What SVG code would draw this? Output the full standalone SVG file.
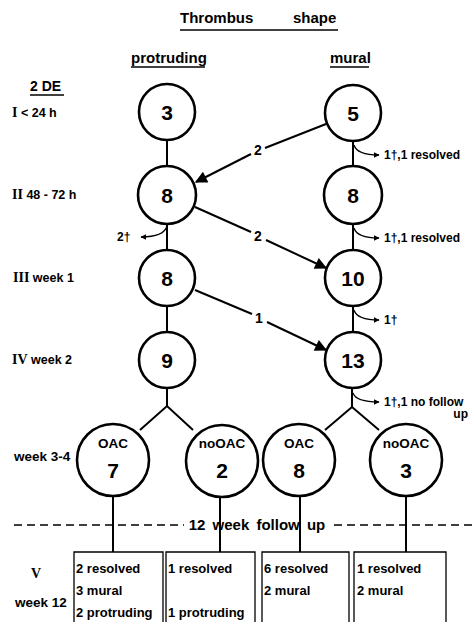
<svg xmlns="http://www.w3.org/2000/svg" width="474" height="622" viewBox="0 0 474 622">
<defs>
<style>
text{font-family:"Liberation Sans",Arial,sans-serif;font-weight:bold;fill:#000}
.num{font-size:21px;text-anchor:middle}
.lbl{font-size:12.5px}
.side{font-size:12px}
.el{font-size:14px;text-anchor:middle}
.hd{font-size:15px}
.rn{font-family:"Liberation Serif","Times New Roman",serif;font-size:14px}
.node{fill:#fff;stroke:#000;stroke-width:2.6}
.ln{stroke:#000;stroke-width:2;fill:none}
.thin{stroke:#000;stroke-width:1.3;fill:none}
.box{fill:none;stroke:#000;stroke-width:1.3}
.bt{font-size:13px}
.sub{font-size:13.5px;text-anchor:middle}
</style>
<marker id="ah" viewBox="0 0 10 10" refX="9" refY="5" markerWidth="6" markerHeight="6" markerUnits="userSpaceOnUse" orient="auto"><path d="M0,0 L10,5 L0,10 z" fill="#000"/></marker>
<marker id="big" viewBox="0 0 10 10" refX="9" refY="5" markerWidth="13" markerHeight="12" markerUnits="userSpaceOnUse" orient="auto"><path d="M0,0 L10,5 L0,10 z" fill="#000"/></marker>
</defs>

<g id="headers">
<text class="hd" x="180" y="23">Thrombus</text>
<text class="hd" x="293" y="23">shape</text>
<line class="thin" x1="180" y1="30" x2="338" y2="30"/>
<text class="hd" x="131" y="63">protruding</text>
<line class="thin" x1="131" y1="67" x2="205" y2="67"/>
<text class="hd" x="330" y="63">mural</text>
<line class="thin" x1="330" y1="67" x2="369" y2="67"/>
</g>

<g id="row-labels">
<text x="30" y="91" style="font-size:14px">2 DE</text>
<line class="thin" x1="30" y1="95" x2="64" y2="95"/>
<text class="lbl" x="12" y="117"><tspan class="rn">I</tspan> &lt; 24 h</text>
<text class="lbl" x="12" y="199"><tspan class="rn">II</tspan> 48 - 72 h</text>
<text class="lbl" x="13" y="282"><tspan class="rn">III</tspan> week 1</text>
<text class="lbl" x="12" y="364"><tspan class="rn">IV</tspan> week 2</text>
<text x="14" y="461" style="font-size:13.5px">week 3-4</text>
<text x="31" y="578"><tspan class="rn">V</tspan></text>
<text x="15" y="607" style="font-size:13.5px">week 12</text>
</g>

<g id="connectors">
<line class="ln" x1="167" y1="141" x2="167" y2="166"/>
<line class="ln" x1="167" y1="224" x2="167" y2="249"/>
<line class="ln" x1="167" y1="307" x2="167" y2="331"/>
<line class="ln" x1="353" y1="142" x2="353" y2="166"/>
<line class="ln" x1="353" y1="224" x2="353" y2="249"/>
<line class="ln" x1="353" y1="307" x2="353" y2="331"/>
<polyline class="ln" points="140,430 167,406 193,430"/>
<line class="ln" x1="167" y1="389" x2="167" y2="406"/>
<polyline class="ln" points="325,430 352,407 379,430"/>
<line class="ln" x1="352" y1="389" x2="352" y2="407"/>
<line class="ln" x1="326" y1="124" x2="265" y2="148"/>
<line class="ln" x1="251" y1="154" x2="196" y2="182" marker-end="url(#big)"/>
<line class="ln" x1="195" y1="207" x2="251" y2="232"/>
<line class="ln" x1="266" y1="240" x2="326" y2="268" marker-end="url(#big)"/>
<line class="ln" x1="195" y1="290" x2="252" y2="314"/>
<line class="ln" x1="267" y1="322" x2="326" y2="350" marker-end="url(#big)"/>
<path class="thin" d="M354,145 Q357,155 379,155" marker-end="url(#ah)"/>
<path class="thin" d="M354,228 Q357,238 379,238" marker-end="url(#ah)"/>
<path class="thin" d="M354,310 Q357,320 379,320" marker-end="url(#ah)"/>
<path class="thin" d="M353,393 Q356,402 379,402" marker-end="url(#ah)"/>
<path class="thin" d="M167,226 Q164,237 141,237" marker-end="url(#ah)"/>
<line class="ln" x1="113" y1="497" x2="113" y2="552"/>
<line class="ln" x1="220" y1="497" x2="220" y2="552"/>
<line class="ln" x1="300" y1="497" x2="300" y2="552"/>
<line class="ln" x1="406" y1="497" x2="406" y2="552"/>
</g>

<g id="edge-labels">
<text class="el" x="258" y="155">2</text>
<text class="el" x="258" y="241">2</text>
<text class="el" x="259" y="323">1</text>
<text class="side" x="384" y="159">1†,1 resolved</text>
<text class="side" x="384" y="242">1†,1 resolved</text>
<text class="side" x="384" y="324">1†</text>
<text class="side" x="384" y="406">1†,1 no follow</text>
<text class="side" x="468" y="418" text-anchor="end">up</text>
<text class="side" x="117" y="241">2†</text>
</g>

<g id="n-p1"><circle class="node" cx="167" cy="112" r="28"/><text class="num" x="167" y="120">3</text></g>
<g id="n-m1"><circle class="node" cx="353" cy="113" r="28"/><text class="num" x="353" y="121">5</text></g>
<g id="n-p2"><circle class="node" cx="167" cy="195" r="29"/><text class="num" x="167" y="203">8</text></g>
<g id="n-m2"><circle class="node" cx="353" cy="195" r="29"/><text class="num" x="353" y="203">8</text></g>
<g id="n-p3"><circle class="node" cx="167" cy="278" r="28"/><text class="num" x="167" y="286">8</text></g>
<g id="n-m3"><circle class="node" cx="353" cy="278" r="28"/><text class="num" x="353" y="286">10</text></g>
<g id="n-p4"><circle class="node" cx="167" cy="360" r="28"/><text class="num" x="167" y="368">9</text></g>
<g id="n-m4"><circle class="node" cx="353" cy="360" r="28"/><text class="num" x="353" y="368">13</text></g>

<g id="n-p-oac"><circle class="node" cx="113" cy="460" r="36"/><text class="sub" x="113" y="448">OAC</text><text class="num" x="113" y="478">7</text></g>
<g id="n-p-nooac"><circle class="node" cx="222" cy="461" r="36"/><text class="sub" x="222" y="448">noOAC</text><text class="num" x="222" y="478">2</text></g>
<g id="n-m-oac"><circle class="node" cx="299" cy="460" r="36"/><text class="sub" x="299" y="448">OAC</text><text class="num" x="299" y="478">8</text></g>
<g id="n-m-nooac"><circle class="node" cx="406" cy="460" r="36"/><text class="sub" x="406" y="448">noOAC</text><text class="num" x="406" y="478">3</text></g>

<g id="followup">
<line x1="14" y1="525" x2="184" y2="525" stroke="#000" stroke-width="1.6" stroke-dasharray="8,5"/>
<line x1="334" y1="525" x2="474" y2="525" stroke="#000" stroke-width="1.6" stroke-dasharray="8,5"/>
<text x="257" y="530" text-anchor="middle" style="font-size:15px;word-spacing:3px">12 week follow up</text>
</g>

<g id="b1"><path class="box" d="M74,622 V552 H163 V622"/><text class="bt" x="76" y="573">2 resolved</text><text class="bt" x="76" y="595">3 mural</text><text class="bt" x="76" y="617">2 protruding</text></g>
<g id="b2"><path class="box" d="M166,622 V552 H255 V622"/><text class="bt" x="168" y="573">1 resolved</text><text class="bt" x="168" y="617">1 protruding</text></g>
<g id="b3"><path class="box" d="M262,622 V552 H349 V622"/><text class="bt" x="264" y="573">6 resolved</text><text class="bt" x="264" y="595">2 mural</text></g>
<g id="b4"><path class="box" d="M354,622 V552 H446 V622"/><text class="bt" x="357" y="573">1 resolved</text><text class="bt" x="357" y="595">2 mural</text></g>
</svg>
